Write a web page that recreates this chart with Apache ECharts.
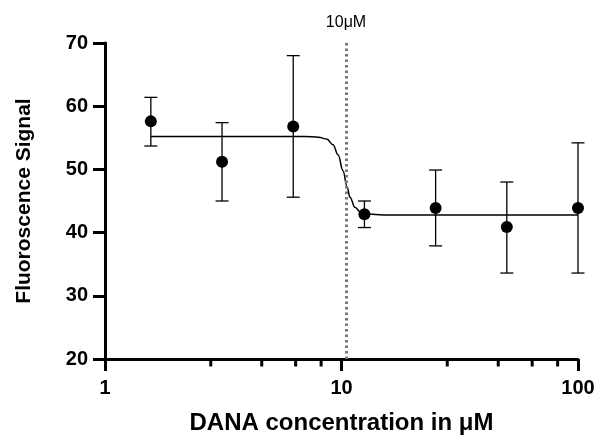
<!DOCTYPE html>
<html>
<head>
<meta charset="utf-8">
<script src="https://cdn.jsdelivr.net/npm/echarts@6/dist/echarts.min.js"></script>
<style>
  html, body { margin: 0; padding: 0; background: #fff; }
  #chart { width: 599px; height: 436px; }
</style>
</head>
<body>
<div id="chart"></div>
<script>
// concentrations in uM and measured signal
var concentrations = [1.5625, 3.125, 6.25, 12.5, 25, 50, 100];
var signalMean = [57.6, 51.2, 56.8, 42.9, 43.9, 40.9, 43.9];
var signalLow = [53.7, 45.0, 45.6, 40.8, 37.9, 33.6, 33.6];
var signalHigh = [61.4, 57.4, 68.0, 45.0, 49.9, 48.0, 54.2];

// fitted curve
var fitX = [1.5625, 4, 7, 8, 8.66, 9.21, 9.67, 10.15, 10.55, 10.86, 11.4, 12, 13, 15, 30, 100];
var fitY = [55.2, 55.2, 55.2, 55.1, 54.8, 53.9, 52.3, 49.8, 47.3, 45.6, 44.0, 43.3, 42.95, 42.8, 42.8, 42.8];

var minorTicks = [2.8, 4.6, 6.4, 8.2, 28, 46, 64, 82];
var cutoff = 10.45;

var font = '"Liberation Sans", Arial, sans-serif';

var chartDom = document.getElementById('chart');
var chart = echarts.init(chartDom);

var points = concentrations.map(function (c, i) { return [c, signalMean[i]]; });
var bars = concentrations.map(function (c, i) { return [c, signalLow[i], signalHigh[i]]; });
var curve = fitX.map(function (x, i) { return [x, fitY[i]]; });

var option = {
  animation: false,
  grid: {
    left: 105,
    right: 21,
    top: 43,
    bottom: 77,
    containLabel: false,
    outerBoundsMode: 'none'
  },
  xAxis: {
    type: 'log',
    logBase: 10,
    min: 1,
    max: 100,
    name: 'DANA concentration in μM',
    nameLocation: 'middle',
    nameGap: 52,
    nameTextStyle: { fontFamily: font, fontWeight: 'bold', fontSize: 24, color: '#000' },
    axisLine: { lineStyle: { color: '#000', width: 3 } },
    axisTick: { length: 12, lineStyle: { color: '#000', width: 3 } },
    axisLabel: { fontFamily: font, fontWeight: 'bold', fontSize: 20, color: '#000', margin: 19 },
    splitLine: { show: false },
    minorTick: { show: false }
  },
  yAxis: {
    type: 'value',
    min: 20,
    max: 70,
    interval: 10,
    name: 'Fluoroscence Signal',
    nameLocation: 'middle',
    nameGap: 70,
    nameTextStyle: { fontFamily: font, fontWeight: 'bold', fontSize: 21, color: '#000' },
    axisLine: { show: true, lineStyle: { color: '#000', width: 3 } },
    axisTick: { show: true, length: 12, lineStyle: { color: '#000', width: 3 } },
    axisLabel: { fontFamily: font, fontWeight: 'bold', fontSize: 20, color: '#000', margin: 17 },
    splitLine: { show: false }
  },
  series: [
    {
      name: 'fit',
      type: 'line',
      data: curve,
      smooth: 0.4,
      smoothMonotone: 'x',
      symbol: 'none',
      lineStyle: { color: '#000', width: 1.5 },
      markLine: {
        silent: true,
        symbol: 'none',
        lineStyle: { color: '#777', width: 3, type: [2.5, 3], opacity: 1 },
        label: {
          show: true,
          position: 'end',
          formatter: '10μM',
          fontFamily: font,
          fontSize: 16,
          color: '#000',
          distance: 12
        },
        emphasis: { disabled: true },
        data: [{ xAxis: cutoff }]
      },
      z: 2
    },
    {
      name: 'error',
      type: 'custom',
      data: bars,
      clip: false,
      renderItem: function (params, api) {
        var top = api.coord([api.value(0), api.value(2)]);
        var bottom = api.coord([api.value(0), api.value(1)]);
        var cap = 6.5;
        var style = { stroke: '#000', lineWidth: 1.3 };
        return {
          type: 'group',
          children: [
            { type: 'line', shape: { x1: top[0], y1: top[1], x2: bottom[0], y2: bottom[1] }, style: style },
            { type: 'line', shape: { x1: top[0] - cap, y1: top[1], x2: top[0] + cap, y2: top[1] }, style: style },
            { type: 'line', shape: { x1: bottom[0] - cap, y1: bottom[1], x2: bottom[0] + cap, y2: bottom[1] }, style: style }
          ]
        };
      },
      z: 3
    },
    {
      name: 'mean',
      type: 'scatter',
      data: points,
      symbol: 'circle',
      symbolSize: 12,
      itemStyle: { color: '#000', opacity: 1 },
      z: 4
    },
    {
      // Prism style minor ticks on the x axis
      name: 'minorTicks',
      type: 'custom',
      data: minorTicks.map(function (v) { return [v, 20]; }),
      clip: false,
      silent: true,
      renderItem: function (params, api) {
        var p = api.coord([api.value(0), api.value(1)]);
        return {
          type: 'line',
          shape: { x1: p[0], y1: p[1], x2: p[0], y2: p[1] + 7.5 },
          style: { stroke: '#000', lineWidth: 3 }
        };
      },
      z: 5
    }
  ]
};

chart.setOption(option);
</script>
</body>
</html>
